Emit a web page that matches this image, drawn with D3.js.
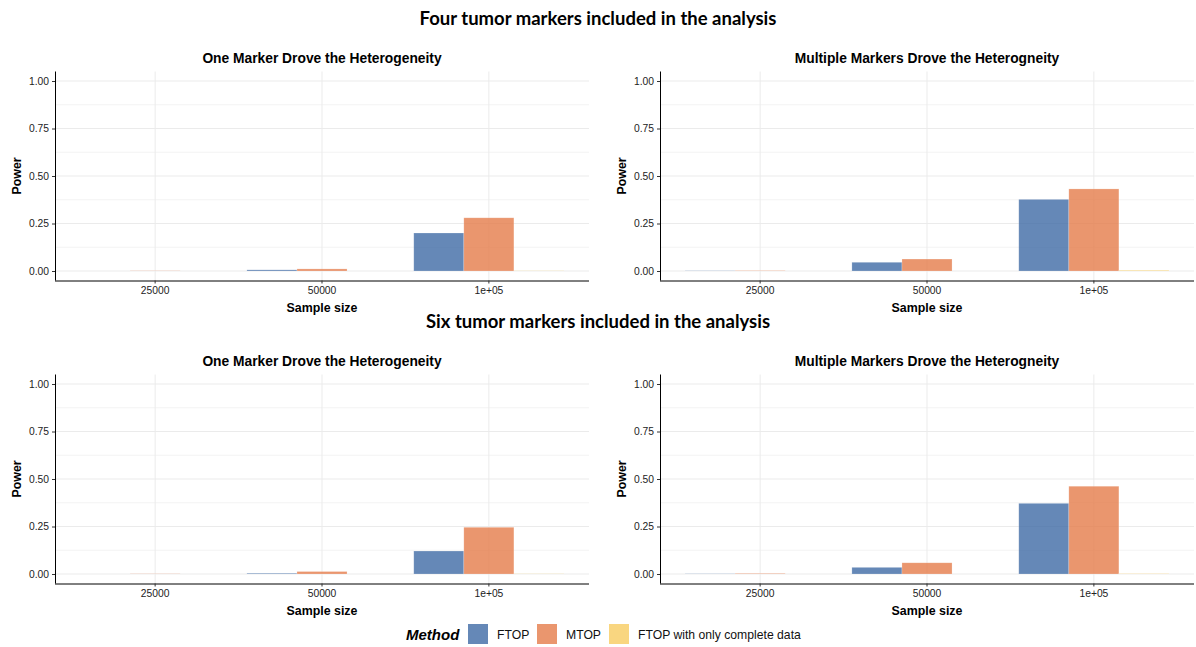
<!DOCTYPE html>
<html>
<head>
<meta charset="utf-8">
<script src="https://cdn.jsdelivr.net/npm/d3@7"></script>
<style>
	body { margin: 0; background: #fff; }
	text { font-family: "Liberation Sans", Arial, sans-serif; }
	.main-title { font-family: Lato, "Open Sans", sans-serif; font-weight: bold; font-size: 18.5px; }
	.panel-title { font-weight: bold; font-size: 13.8px; }
	.axis-title { font-weight: bold; font-size: 12.4px; }
	.tick text { font-size: 10.3px; fill: #222; }
	.grid-major { stroke: #ebebeb; stroke-width: 1; }
	.grid-minor { stroke: #f3f3f3; stroke-width: 1; }
</style>
</head>
<body>
<svg id="chart" width="1196" height="647"></svg>
<script>

const sample_sizes = ["25000", "50000", "1e+05"];
const methods = ["FTOP", "MTOP", "FTOP with only complete data"];
const method_colors = ["#3e6aa5", "#e57c4a", "#f7cc60"];
const y_ticks = [0, 0.25, 0.5, 0.75, 1];
const y_minor = [0.125, 0.375, 0.625, 0.875];

const section_titles = ["Four tumor markers included in the analysis", "Six tumor markers included in the analysis"];
const panel_titles = ["One Marker Drove the Heterogeneity", "Multiple Markers Drove the Heterogneity"];

// power per sample size, one array per method: [FTOP, MTOP, FTOP complete]
const four_one = [[0.000, 0.006, 0.200], [0.001, 0.011, 0.280], [0.000, 0.000, 0.001]];
const four_multi = [[0.001, 0.046, 0.377], [0.002, 0.063, 0.432], [0.000, 0.000, 0.004]];
const six_one = [[0.000, 0.004, 0.121], [0.001, 0.013, 0.246], [0.000, 0.000, 0.001]];
const six_multi = [[0.001, 0.035, 0.372], [0.003, 0.059, 0.462], [0.000, 0.000, 0.002]];

const svg = d3.select("#chart");

function drawPanel(left, top, width, height, values, title) {
	const g = svg.append("g").attr("transform", "translate(" + left + "," + top + ")");

	const x = d3.scaleBand().domain(sample_sizes).range([0, width]).paddingInner(0).paddingOuter(0.1);
	const dodge = d3.scaleBand().domain(methods).range([0.05 * x.step(), 0.95 * x.step()]);
	const y = d3.scaleLinear().domain([-0.05, 1.05]).range([height, 0]);

	// grid
	g.selectAll(".grid-minor").data(y_minor).enter().append("line")
		.attr("class", "grid-minor")
		.attr("x1", 0).attr("x2", width)
		.attr("y1", d => y(d)).attr("y2", d => y(d));
	g.selectAll(".grid-major-h").data(y_ticks).enter().append("line")
		.attr("class", "grid-major")
		.attr("x1", 0).attr("x2", width)
		.attr("y1", d => y(d)).attr("y2", d => y(d));
	g.selectAll(".grid-major-v").data(sample_sizes).enter().append("line")
		.attr("class", "grid-major")
		.attr("x1", d => x(d) + x.bandwidth() / 2).attr("x2", d => x(d) + x.bandwidth() / 2)
		.attr("y1", 0).attr("y2", height);

	// bars
	const bars = [];
	methods.forEach((m, mi) => {
		sample_sizes.forEach((s, si) => bars.push({method: m, size: s, value: values[mi][si], color: method_colors[mi]}));
	});
	g.selectAll(".bar").data(bars).enter().append("rect")
		.attr("class", "bar")
		.attr("x", d => x(d.size) + dodge(d.method))
		.attr("width", dodge.bandwidth())
		.attr("y", d => y(d.value))
		.attr("height", d => Math.max(0, y(0) - y(d.value)))
		.attr("fill", d => d.color)
		.attr("fill-opacity", 0.8)
		.attr("stroke", d => d.value > 0 ? "#fff" : "none")
		.attr("stroke-opacity", 0.35)
		.attr("stroke-width", 0.6);

	// axes
	const yAxis = d3.axisLeft(y).tickValues(y_ticks).tickFormat(d3.format(".2f")).tickSize(3).tickPadding(3);
	g.append("g").call(yAxis)
		.call(a => a.select(".domain").attr("d", "M0.5," + height + "V0").attr("stroke", "#000"))
		.call(a => a.selectAll(".tick line").attr("stroke", "#333"));

	const xAxis = d3.axisBottom(x).tickSize(3).tickPadding(3);
	g.append("g").attr("transform", "translate(0," + height + ")").call(xAxis)
		.call(a => a.select(".domain").attr("d", "M0,0.5H" + width).attr("stroke", "#000"))
		.call(a => a.selectAll(".tick line").attr("stroke", "#333"));

	g.append("text").attr("class", "panel-title")
		.attr("x", width / 2).attr("y", -9)
		.attr("text-anchor", "middle").text(title);

	g.append("text").attr("class", "axis-title")
		.attr("x", width / 2).attr("y", height + 31)
		.attr("text-anchor", "middle").text("Sample size");

	g.append("text").attr("class", "axis-title")
		.attr("transform", "translate(" + (-34) + "," + (height / 2) + ") rotate(-90)")
		.attr("text-anchor", "middle").text("Power");
}

const panel_w = 534;
const panel_h = 209;
const lefts = [55, 660];
const tops = [71.5, 374.5];
const data_grid = [[four_one, four_multi], [six_one, six_multi]];

tops.forEach((t, r) => {
	svg.append("text").attr("class", "main-title")
		.attr("x", 598).attr("y", t - 47)
		.attr("text-anchor", "middle").text(section_titles[r]);
	lefts.forEach((l, c) => drawPanel(l, t, panel_w, panel_h, data_grid[r][c], panel_titles[c]));
});

// legend
const legend = svg.append("g").attr("transform", "translate(0,634)");
legend.append("text").attr("x", 406).attr("y", 6)
	.style("font-weight", "bold").style("font-style", "italic").style("font-size", "15px")
	.text("Method");
const key_x = [468, 537, 609];
methods.forEach((m, i) => {
	legend.append("rect").attr("x", key_x[i]).attr("y", -10).attr("width", 20).attr("height", 20)
		.attr("fill", method_colors[i]).attr("fill-opacity", 0.8);
	legend.append("text").attr("x", key_x[i] + 29).attr("y", 4.5)
		.style("font-size", "12.2px").attr("fill", "#111").text(m);
});
</script>
</body>
</html>
